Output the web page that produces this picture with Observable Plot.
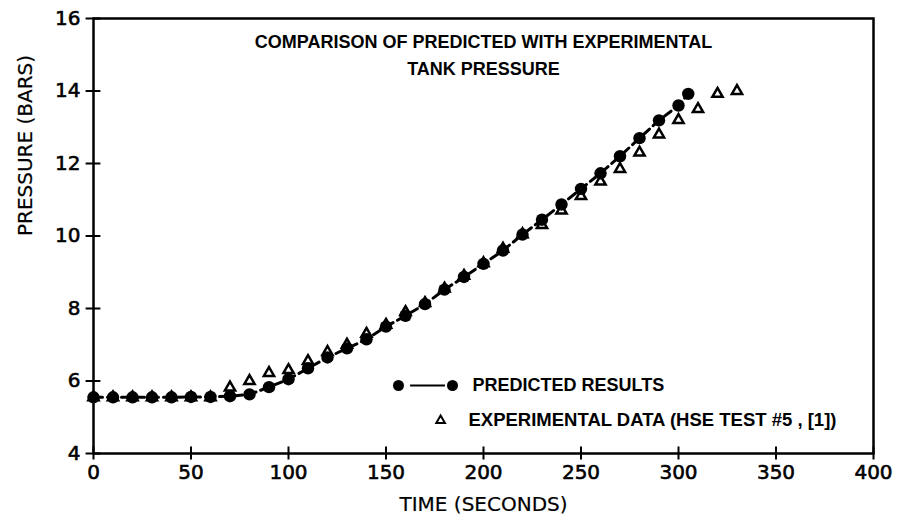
<!DOCTYPE html>
<html>
<head>
<meta charset="utf-8">
<script src="https://cdn.jsdelivr.net/npm/d3@7"></script>
<script src="https://cdn.jsdelivr.net/npm/@observablehq/plot@0.6"></script>
<style>
  html, body { margin: 0; padding: 0; background: #fff; }
  #chart svg { display: block; }
</style>
</head>
<body>
<div id="chart"></div>
<script>
// Predicted results (circles, dashed line)
const predTime = [0, 10, 20, 30, 40, 50, 60, 70, 80, 90, 100, 110, 120, 130, 140, 150, 160, 170, 180, 190, 200, 210, 220, 230, 240, 250, 260, 270, 280, 290, 300, 305];
const predPressure = [5.55, 5.55, 5.55, 5.55, 5.55, 5.56, 5.56, 5.58, 5.63, 5.83, 6.05, 6.35, 6.65, 6.9, 7.15, 7.5, 7.8, 8.12, 8.52, 8.87, 9.23, 9.6, 10.04, 10.45, 10.87, 11.3, 11.73, 12.2, 12.7, 13.19, 13.6, 13.92];
// Experimental data (triangles)
const expTime = [0, 10, 20, 30, 40, 50, 60, 70, 80, 90, 100, 110, 120, 130, 140, 150, 160, 170, 180, 190, 200, 210, 220, 230, 240, 250, 260, 270, 280, 290, 300, 310, 320, 330];
const expPressure = [5.55, 5.55, 5.55, 5.55, 5.55, 5.55, 5.55, 5.82, 6.0, 6.22, 6.3, 6.55, 6.8, 7.0, 7.3, 7.55, 7.9, 8.15, 8.55, 8.9, 9.25, 9.65, 10.05, 10.3, 10.7, 11.1, 11.5, 11.85, 12.3, 12.8, 13.2, 13.5, 13.92, 14.0];
// Axis ticks
const xTicks = [0, 50, 100, 150, 200, 250, 300, 350, 400];
const yTicks = [4, 6, 8, 10, 12, 14, 16];
// Texts
const titleLines = ["COMPARISON OF PREDICTED WITH EXPERIMENTAL", "TANK PRESSURE"];
const legendLabels = ["PREDICTED RESULTS", "EXPERIMENTAL DATA (HSE TEST #5 , [1])"];

const pred = predTime.map((t, i) => ({t, p: predPressure[i]}));
const exp = expTime.map((t, i) => ({t, p: expPressure[i]}));

const font = "Liberation Sans, Arial, Helvetica, sans-serif";
const wide = "DejaVu Sans, Liberation Sans, sans-serif";

const chart = Plot.plot({
  width: 901,
  height: 529,
  marginLeft: 93,
  marginRight: 28,
  marginTop: 18,
  marginBottom: 76,
  style: {fontFamily: font, background: "#fff", color: "#000"},
  x: {domain: [0, 400], label: null, axis: null},
  y: {domain: [4, 16], label: null, axis: null},
  marks: [
    Plot.frame({stroke: "#000", strokeWidth: 2.5}),
    // crossing ticks
    Plot.ruleY(yTicks, {x1: -3.8, x2: 3.8, stroke: "#000", strokeWidth: 2}),
    Plot.ruleX(xTicks, {y1: 3.82, y2: 4.18, stroke: "#000", strokeWidth: 2}),
    // tick labels
    Plot.text(yTicks, {x: 0, y: d => d, dx: -13, textAnchor: "end", text: d => String(d), fontSize: 20, fontFamily: wide, fill: "#000", stroke: "#000", strokeWidth: 0.6}),
    Plot.text(xTicks, {x: d => d, y: 4, dy: 19, text: d => String(d), fontSize: 20, fontFamily: wide, fill: "#000", stroke: "#000", strokeWidth: 0.6}),
    // axis titles
    Plot.text(["PRESSURE (BARS)"], {frameAnchor: "left", dx: -68, rotate: -90, fontSize: 20, fontFamily: wide, fill: "#000", stroke: "#000", strokeWidth: 0.2}),
    Plot.text(["TIME (SECONDS)"], {frameAnchor: "bottom", dy: 57, fontSize: 20, fontFamily: wide, fill: "#000", stroke: "#000", strokeWidth: 0.2}),
    // title
    Plot.text([titleLines[0]], {x: 200, y: 15.34, fontSize: 18, fontWeight: "bold", fill: "#000", textAnchor: "middle"}),
    Plot.text([titleLines[1]], {x: 200, y: 14.59, fontSize: 18, fontWeight: "bold", fill: "#000", textAnchor: "middle"}),
    // data
    Plot.dot(exp, {x: "t", y: "p", symbol: "triangle", r: 3.8, stroke: "#000", strokeWidth: 2.5, fill: "#fff"}),
    Plot.line(pred, {x: "t", y: "p", stroke: "#000", strokeWidth: 3, strokeDasharray: "9,5"}),
    Plot.dot(pred, {x: "t", y: "p", r: 6.2, fill: "#000", stroke: "none"}),
    // legend
    Plot.ruleY([5.876], {x1: 162.6, x2: 180.5, stroke: "#000", strokeWidth: 2}),
    Plot.dot([{x: 156.4, y: 5.876}, {x: 184.1, y: 5.876}], {x: "x", y: "y", r: 5.5, fill: "#000"}),
    Plot.text([legendLabels[0]], {x: 194.4, y: 5.876, textAnchor: "start", fontSize: 18, fontWeight: "bold", fill: "#000"}),
    Plot.dot([{x: 178, y: 4.91}], {x: "x", y: "y", symbol: "triangle", r: 3.2, stroke: "#000", strokeWidth: 2, fill: "#fff"}),
    Plot.text([legendLabels[1]], {x: 192.3, y: 4.91, textAnchor: "start", fontSize: 18.5, fontWeight: "bold", fill: "#000"})
  ]
});
document.getElementById("chart").appendChild(chart);
</script>
</body>
</html>
